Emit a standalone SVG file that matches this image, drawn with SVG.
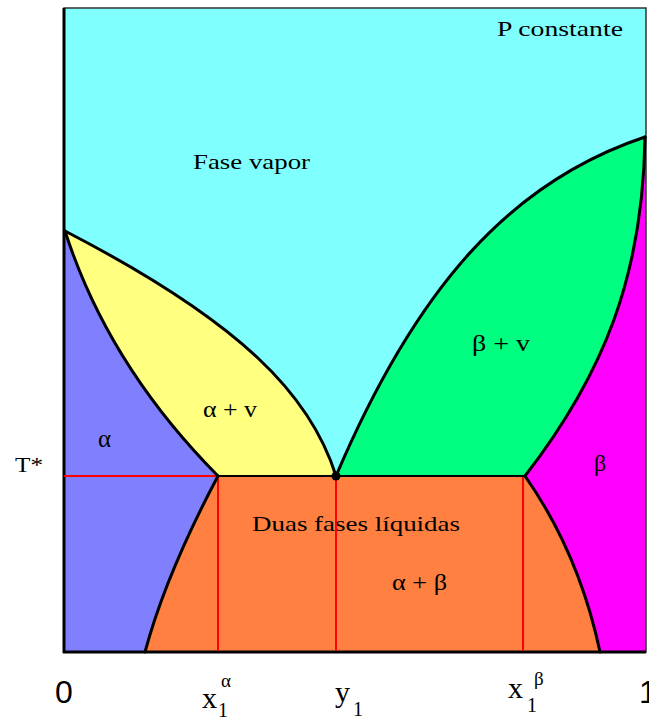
<svg xmlns="http://www.w3.org/2000/svg" width="649" height="720" viewBox="0 0 649 720">
<style>
.b{fill:none;stroke:#000;stroke-width:3;stroke-linejoin:round;stroke-linecap:round}
.r{stroke:#ff0000;stroke-width:2;fill:none}
.s{font-family:"Liberation Serif","DejaVu Serif",serif;fill:#000}
.g{font-family:"Liberation Sans",Arial,sans-serif;fill:#000}
</style>
<rect x="0" y="0" width="649" height="720" fill="#fff"/>
<g id="regions">
<rect id="vapor" x="64" y="8" width="582" height="644" fill="#80ffff"/>
<path id="alpha-v" d="M65,231 C243,323 311,396 336,476 L218,476 Q108,365 65,231 Z" fill="#ffff80"/>
<path id="beta-v" d="M336,476 C416,288 510,182 645,137 C643,275 604,374 525,476 Z" fill="#00ff80"/>
<path id="alpha" d="M64,231 L65,231 Q108,365 218,476 Q166,574 145,652 L64,652 Z" fill="#8080ff"/>
<path id="liquid" d="M218,476 L525,476 Q579,553 600,652 L145,652 Q166,574 218,476 Z" fill="#ff8040"/>
<path id="beta" d="M645,137 C643,275 604,374 525,476 Q579,553 600,652 L646,652 L646,137 Z" fill="#ff00ff"/>
</g>
<g id="frame">
<rect x="64" y="8" width="582" height="644" fill="none" stroke="#333" stroke-width="1.5"/>
<line x1="64" y1="8" x2="64" y2="653" stroke="#000" stroke-width="3"/>
<line x1="63" y1="652" x2="646" y2="652" stroke="#000" stroke-width="3"/>
</g>
<g id="labels">
<text class="s" x="497" y="36" font-size="21" textLength="126" lengthAdjust="spacingAndGlyphs">P constante</text>
<text class="s" x="193" y="169" font-size="22" textLength="117" lengthAdjust="spacingAndGlyphs">Fase vapor</text>
<text class="s" x="203" y="417" font-size="24" textLength="54" lengthAdjust="spacingAndGlyphs">α + v</text>
<text class="s" x="98" y="447" font-size="25">α</text>
<text class="s" x="472" y="351" font-size="24" textLength="58" lengthAdjust="spacingAndGlyphs">β + v</text>
<text class="s" x="594" y="471" font-size="24">β</text>
<text class="s" x="15" y="472" font-size="22" textLength="28" lengthAdjust="spacingAndGlyphs">T*</text>
<text class="s" x="252" y="531" font-size="22" textLength="208" lengthAdjust="spacingAndGlyphs">Duas fases líquidas</text>
<text class="s" x="392" y="590" font-size="24" textLength="55" lengthAdjust="spacingAndGlyphs">α + β</text>
<text class="g" x="55" y="703" font-size="32">0</text>
<text class="g" x="639" y="703" font-size="32">1</text>
<text class="s" x="202" y="708" font-size="30">x</text>
<text class="s" x="218" y="717" font-size="20">1</text>
<text class="s" x="221" y="687" font-size="19">α</text>
<text class="s" x="335" y="702" font-size="30">y</text>
<text class="s" x="353" y="716" font-size="20">1</text>
<text class="s" x="508" y="698" font-size="30">x</text>
<text class="s" x="527" y="712" font-size="20">1</text>
<text class="s" x="534" y="685" font-size="19">β</text>
</g>
<g id="connectors">
<line class="r" x1="64" y1="476" x2="218" y2="476"/>
<line class="r" x1="218" y1="476" x2="218" y2="651"/>
<line class="r" x1="336" y1="476" x2="336" y2="651"/>
<line class="r" x1="523" y1="476" x2="523" y2="651"/>
<path class="b" d="M65,231 C243,323 311,396 336,476"/>
<path class="b" d="M65,231 Q108,365 218,476"/>
<path class="b" d="M336,476 C416,288 510,182 645,137"/>
<path class="b" d="M645,137 C643,275 604,374 525,476"/>
<path class="b" d="M218,476 Q166,574 145,652"/>
<path class="b" d="M525,476 Q579,553 600,652"/>
<line x1="218" y1="476" x2="525" y2="476" stroke="#000" stroke-width="2"/>
<circle cx="336" cy="476" r="4.5" fill="#000"/>
</g>
</svg>
